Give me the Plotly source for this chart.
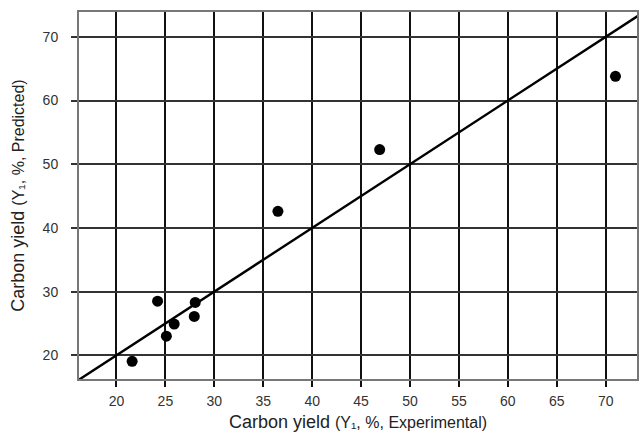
import plotly.graph_objects as go

exp_vals = [21.6, 24.2, 25.1, 25.9, 28.05, 27.95, 36.5, 46.9, 71.0]
pred_vals = [19.05, 28.5, 23.0, 24.9, 28.3, 26.1, 42.6, 52.3, 63.8]
ref_line = [16.0, 74.5]
x_ticks = [20, 25, 30, 35, 40, 45, 50, 55, 60, 65, 70]
y_ticks = [20, 30, 40, 50, 60, 70]

fig = go.Figure()
fig.add_trace(go.Scatter(x=ref_line, y=ref_line, mode="lines",
                         line=dict(color="black", width=2.4), hoverinfo="skip"))
fig.add_trace(go.Scatter(x=exp_vals, y=pred_vals, mode="markers",
                         marker=dict(color="black", size=11)))

font = "Liberation Sans, Arial, sans-serif"
fig.update_layout(
    width=639, height=436,
    margin=dict(l=79, r=0, t=12, b=57),
    plot_bgcolor="white", paper_bgcolor="white",
    showlegend=False,
    font=dict(family=font, size=14, color="#222"),
    xaxis=dict(range=[16.17, 73.2], tickvals=x_ticks, showgrid=True,
               gridcolor="#111", gridwidth=1.6, zeroline=False,
               showline=True, linecolor="#777", linewidth=2, mirror=True,
               ticks="outside", ticklen=6, tickcolor="#111", tickwidth=1.5,
               ticklabelstandoff=2,
               tickfont=dict(size=14, color="#333"),
               title=dict(text="Carbon yield <span style='font-size:16px'>(Y\u2081, %, Experimental)</span>",
                          font=dict(size=18, color="#222"), standoff=8)),
    yaxis=dict(range=[16.28, 73.9], tickvals=y_ticks, showgrid=True,
               gridcolor="#333", gridwidth=2, zeroline=False,
               showline=True, linecolor="#777", linewidth=2, mirror=True,
               ticks="outside", ticklen=6, tickcolor="#333", tickwidth=1.5,
               ticklabelstandoff=10,
               tickfont=dict(size=14, color="#333"),
               title=dict(text="Carbon yield <span style='font-size:16px'>(Y\u2081, %, Predicted)</span>",
                          font=dict(size=18, color="#222"), standoff=13)),
)
fig.write_html("out.html")
